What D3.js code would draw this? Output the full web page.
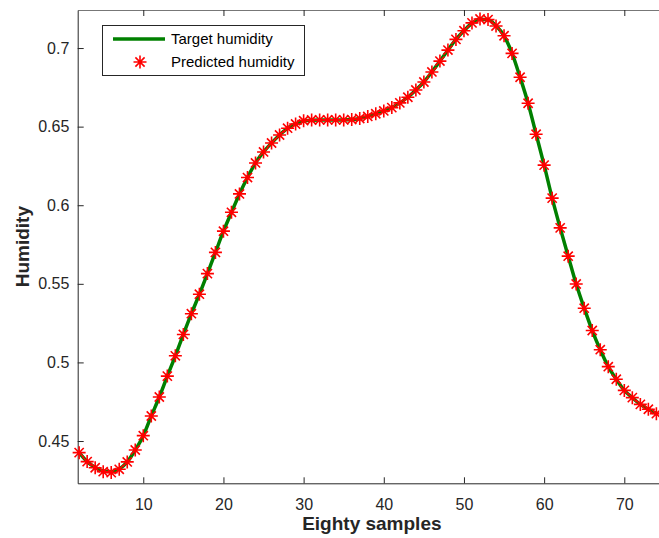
<!DOCTYPE html>
<html>
<head>
<meta charset="utf-8">
<script src="https://cdn.jsdelivr.net/npm/d3@7"></script>
<style>
  body { margin: 0; background: #fff; }
  text { font-family: "Liberation Sans", Arial, sans-serif; }
</style>
</head>
<body>
<div id="chart"></div>
<script>
// sample index along the x axis
const samples = [2, 3, 4, 5, 6, 7, 8, 9, 10, 11, 12, 13, 14, 15, 16, 17, 18, 19, 20,
    21, 22, 23, 24, 25, 26, 27, 28, 29, 30, 31, 32, 33, 34, 35, 36, 37, 38, 39, 40,
    41, 42, 43, 44, 45, 46, 47, 48, 49, 50, 51, 52, 53, 54, 55, 56, 57, 58, 59, 60,
    61, 62, 63, 64, 65, 66, 67, 68, 69, 70, 71, 72, 73, 74];

const targetHumidity = [0.4426, 0.4369, 0.4332, 0.4310, 0.4305, 0.4322, 0.4367, 0.4443, 0.4534,
    0.4659, 0.4780, 0.4913, 0.5042, 0.5178, 0.5310, 0.5434, 0.5565, 0.5700, 0.5835,
    0.5955, 0.6072, 0.6176, 0.6269, 0.6339, 0.6396, 0.6447, 0.6490, 0.6517, 0.6535,
    0.6541, 0.6543, 0.6543, 0.6543, 0.6543, 0.6545, 0.6552, 0.6565, 0.6582, 0.6600,
    0.6621, 0.6651, 0.6687, 0.6733, 0.6784, 0.6848, 0.6917, 0.6987, 0.7055, 0.7110,
    0.7158, 0.7183, 0.7180, 0.7142, 0.7078, 0.6966, 0.6814, 0.6649, 0.6452, 0.6255,
    0.6045, 0.5856, 0.5676, 0.5499, 0.5345, 0.5203, 0.5081, 0.4973, 0.4893, 0.4822,
    0.4776, 0.4733, 0.4702, 0.4674];

const predictedHumidity = [0.4426, 0.4369, 0.4330, 0.4305, 0.4299, 0.4320, 0.4367, 0.4443, 0.4534,
    0.4659, 0.4780, 0.4913, 0.5042, 0.5178, 0.5310, 0.5434, 0.5565, 0.5700, 0.5835,
    0.5955, 0.6072, 0.6176, 0.6269, 0.6339, 0.6396, 0.6447, 0.6490, 0.6517, 0.6538,
    0.6542, 0.6543, 0.6543, 0.6543, 0.6543, 0.6545, 0.6552, 0.6565, 0.6582, 0.6600,
    0.6621, 0.6651, 0.6687, 0.6733, 0.6784, 0.6848, 0.6917, 0.6987, 0.7055, 0.7110,
    0.7160, 0.7185, 0.7181, 0.7140, 0.7078, 0.6966, 0.6814, 0.6649, 0.6452, 0.6255,
    0.6045, 0.5856, 0.5676, 0.5499, 0.5345, 0.5203, 0.5081, 0.4973, 0.4893, 0.4822,
    0.4776, 0.4733, 0.4702, 0.4674];

const xTicks = [10, 20, 30, 40, 50, 60, 70];
const yTicks = [0.45, 0.5, 0.55, 0.6, 0.65, 0.7];
const yTickLabels = ["0.45", "0.5", "0.55", "0.6", "0.65", "0.7"];

const seriesNames = ["Target humidity", "Predicted humidity"];

const W = 659, H = 538;
const margin = {top: 10, left: 77.7};
const plotW = 588.3, plotH = 473.3;

const svg = d3.select("#chart").append("svg")
    .attr("width", W)
    .attr("height", H);

const x = d3.scaleLinear()
    .domain([1.82, 75.2])
    .range([margin.left, margin.left + plotW]);

const y = d3.scaleLinear()
    .domain([0.4231, 0.7242])
    .range([margin.top + plotH, margin.top]);

const axisColor = "#262626";

// bottom axis, ticks pointing inward
const gx = svg.append("g")
    .attr("transform", `translate(0,${margin.top + plotH})`)
    .call(d3.axisBottom(x).tickValues(xTicks).tickSizeInner(-6).tickSizeOuter(0).tickPadding(15));

// top border with inward ticks
const gxTop = svg.append("g")
    .attr("transform", `translate(0,${margin.top})`)
    .call(d3.axisTop(x).tickValues(xTicks).tickSizeInner(-6).tickSizeOuter(0).tickFormat(""));

const gy = svg.append("g")
    .attr("transform", `translate(${margin.left},0)`)
    .call(d3.axisLeft(y).tickValues(yTicks).tickSizeInner(-6).tickSizeOuter(0).tickPadding(8.4)
        .tickFormat((d, i) => yTickLabels[i]));

[gx, gxTop, gy].forEach(g => {
    g.select(".domain").attr("stroke", axisColor).attr("stroke-width", 1);
    g.selectAll(".tick line").attr("stroke", axisColor);
    g.selectAll(".tick text")
        .attr("fill", axisColor)
        .style("font-size", "16px")
        .style("font-family", "'Liberation Sans', Arial, sans-serif");
});
gxTop.select(".domain").attr("stroke", "#777");

// target curve
const line = d3.line()
    .x((d, i) => x(samples[i]))
    .y(d => y(d))
    .curve(d3.curveMonotoneX);

svg.append("path")
    .datum(targetHumidity)
    .attr("d", line)
    .attr("fill", "none")
    .attr("stroke", "#008000")
    .attr("stroke-width", 3.5);

// asterisk marker
const r = 6.5, dd = 4.6;
const starPath = `M${-r},0L${r},0M0,${-r}L0,${r}M${-dd},${-dd}L${dd},${dd}M${-dd},${dd}L${dd},${-dd}`;

svg.append("g")
    .selectAll("path")
    .data(predictedHumidity)
    .join("path")
    .attr("transform", (d, i) => `translate(${x(samples[i])},${y(d)})`)
    .attr("d", starPath)
    .attr("fill", "none")
    .attr("stroke", "#ff0000")
    .attr("stroke-width", 1.6);

// axis titles
svg.append("text")
    .attr("x", margin.left + plotW / 2)
    .attr("y", 530)
    .attr("text-anchor", "middle")
    .attr("fill", axisColor)
    .style("font-size", "19px")
    .style("font-weight", "bold")
    .text("Eighty samples");

svg.append("text")
    .attr("transform", `translate(29,${margin.top + plotH / 2}) rotate(-90)`)
    .attr("text-anchor", "middle")
    .attr("fill", axisColor)
    .style("font-size", "19px")
    .style("font-weight", "bold")
    .text("Humidity");

// legend
const legend = svg.append("g");
legend.append("rect")
    .attr("x", 102.5)
    .attr("y", 25.5)
    .attr("width", 202)
    .attr("height", 50)
    .attr("fill", "#fff")
    .attr("stroke", axisColor)
    .attr("stroke-width", 1);

legend.append("line")
    .attr("x1", 113).attr("x2", 165)
    .attr("y1", 39).attr("y2", 39)
    .attr("stroke", "#008000")
    .attr("stroke-width", 3.5);

legend.append("path")
    .attr("transform", "translate(140,62)")
    .attr("d", starPath)
    .attr("fill", "none")
    .attr("stroke", "#ff0000")
    .attr("stroke-width", 1.6);

legend.selectAll("text.lbl")
    .data(seriesNames)
    .join("text")
    .attr("class", "lbl")
    .attr("x", 171)
    .attr("y", (d, i) => 44 + i * 23)
    .attr("fill", "#000")
    .style("font-size", "15px")
    .text(d => d);
</script>
</body>
</html>
